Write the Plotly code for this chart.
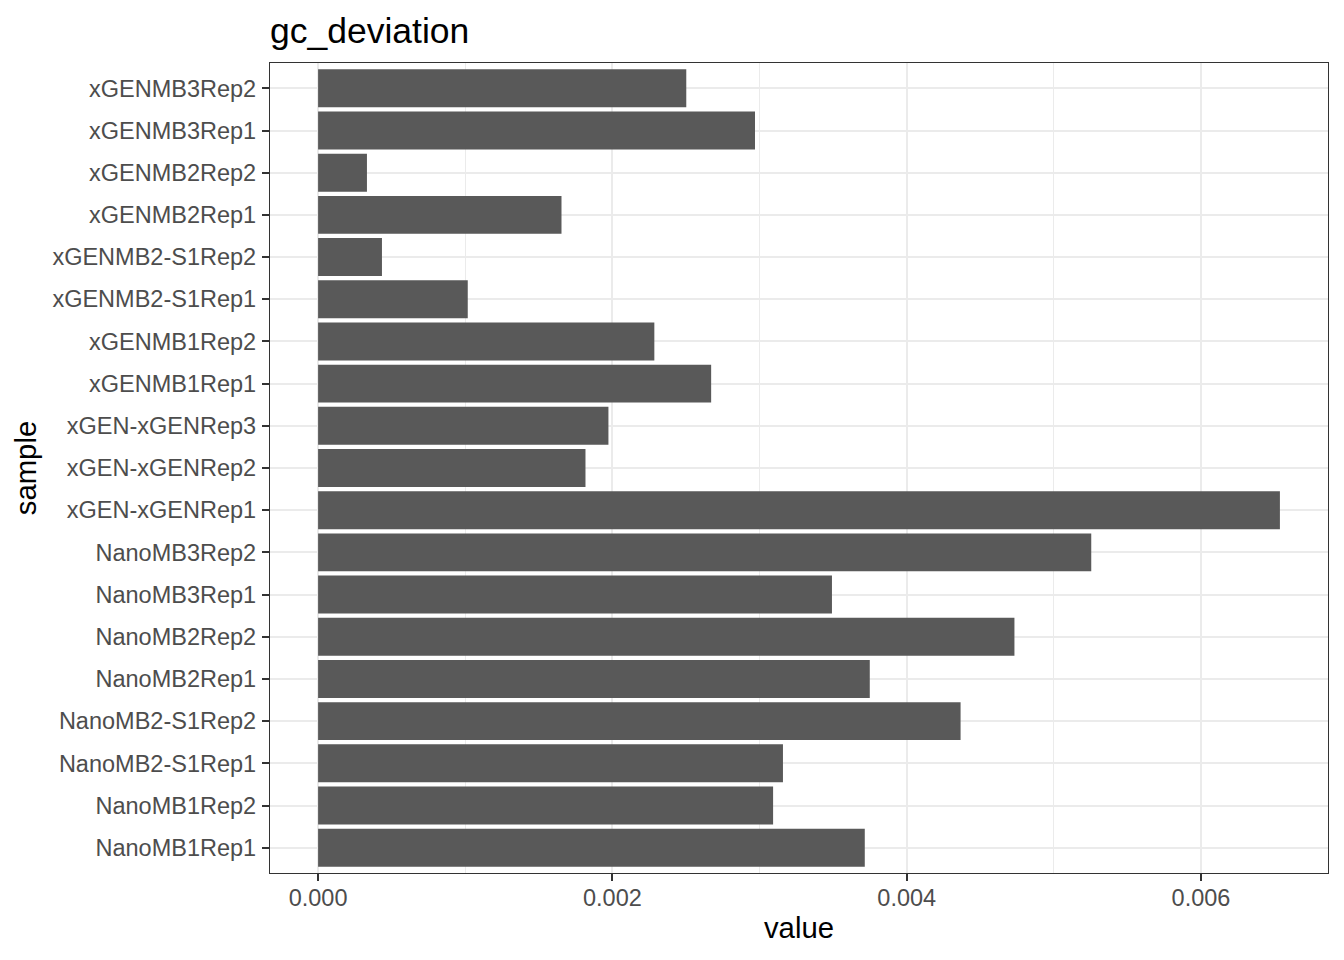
import plotly.graph_objects as go

samples = [
    "NanoMB1Rep1", "NanoMB1Rep2", "NanoMB2-S1Rep1", "NanoMB2-S1Rep2",
    "NanoMB2Rep1", "NanoMB2Rep2", "NanoMB3Rep1", "NanoMB3Rep2",
    "xGEN-xGENRep1", "xGEN-xGENRep2", "xGEN-xGENRep3",
    "xGENMB1Rep1", "xGENMB1Rep2", "xGENMB2-S1Rep1", "xGENMB2-S1Rep2",
    "xGENMB2Rep1", "xGENMB2Rep2", "xGENMB3Rep1", "xGENMB3Rep2",
]
values = [
    0.003715, 0.003092, 0.003159, 0.004366,
    0.003749, 0.004732, 0.003492, 0.005254,
    0.006536, 0.001817, 0.001973,
    0.002671, 0.002285, 0.001017, 0.000434,
    0.001654, 0.000332, 0.002969, 0.002502,
]
x_ticks = [0.0, 0.002, 0.004, 0.006]
x_tick_labels = ["0.000", "0.002", "0.004", "0.006"]

FONT = "Liberation Sans, Arial, sans-serif"

fig = go.Figure(
    go.Bar(
        x=values,
        y=samples,
        orientation="h",
        width=0.9,
        marker=dict(color="#595959", line=dict(width=0)),
    )
)

xmax = max(values)
pad = 0.05 * xmax

fig.update_layout(
    width=1344,
    height=960,
    paper_bgcolor="white",
    plot_bgcolor="white",
    margin=dict(l=270, r=16, t=63, b=87),
    showlegend=False,
    font=dict(family=FONT, color="#4D4D4D"),
    title=dict(
        text="gc_deviation",
        font=dict(family=FONT, size=35.5, color="black"),
        x=270 / 1344,
        xanchor="left",
        xref="container",
        y=1 - 31 / 960,
        yanchor="middle",
        yref="container",
    ),
    xaxis=dict(
        range=[-pad, xmax + pad],
        tickmode="array",
        tickvals=x_ticks,
        ticktext=x_tick_labels,
        tickfont=dict(family=FONT, size=23.5, color="#4D4D4D"),
        ticks="outside",
        ticklen=7,
        tickwidth=2,
        tickcolor="#333333",
        ticklabelstandoff=-3,
        showgrid=True,
        gridcolor="#EBEBEB",
        gridwidth=2,
        zeroline=False,
        showline=True,
        linecolor="#333333",
        linewidth=1.3,
        mirror=True,
        minor=dict(dtick=0.001, tick0=0, showgrid=True, gridcolor="#EBEBEB",
                   gridwidth=1, ticks=""),
        title=dict(text="value", font=dict(family=FONT, size=29.3, color="black"),
                   standoff=7),
    ),
    yaxis=dict(
        type="category",
        categoryorder="array",
        categoryarray=samples,
        range=[-0.6, len(samples) - 0.4],
        tickfont=dict(family=FONT, size=23.5, color="#4D4D4D"),
        ticks="outside",
        ticklen=7,
        tickwidth=2,
        tickcolor="#333333",
        ticklabelstandoff=1,
        showgrid=True,
        gridcolor="#EBEBEB",
        gridwidth=2,
        zeroline=False,
        showline=True,
        linecolor="#333333",
        linewidth=1.3,
        mirror=True,
        title=dict(text="sample", font=dict(family=FONT, size=29.3, color="black"),
                   standoff=7),
    ),
)

fig.write_html(
    "out.html",
    config={"displayModeBar": False},
    post_script="document.body.style.margin='0';document.body.style.padding='0';",
)
